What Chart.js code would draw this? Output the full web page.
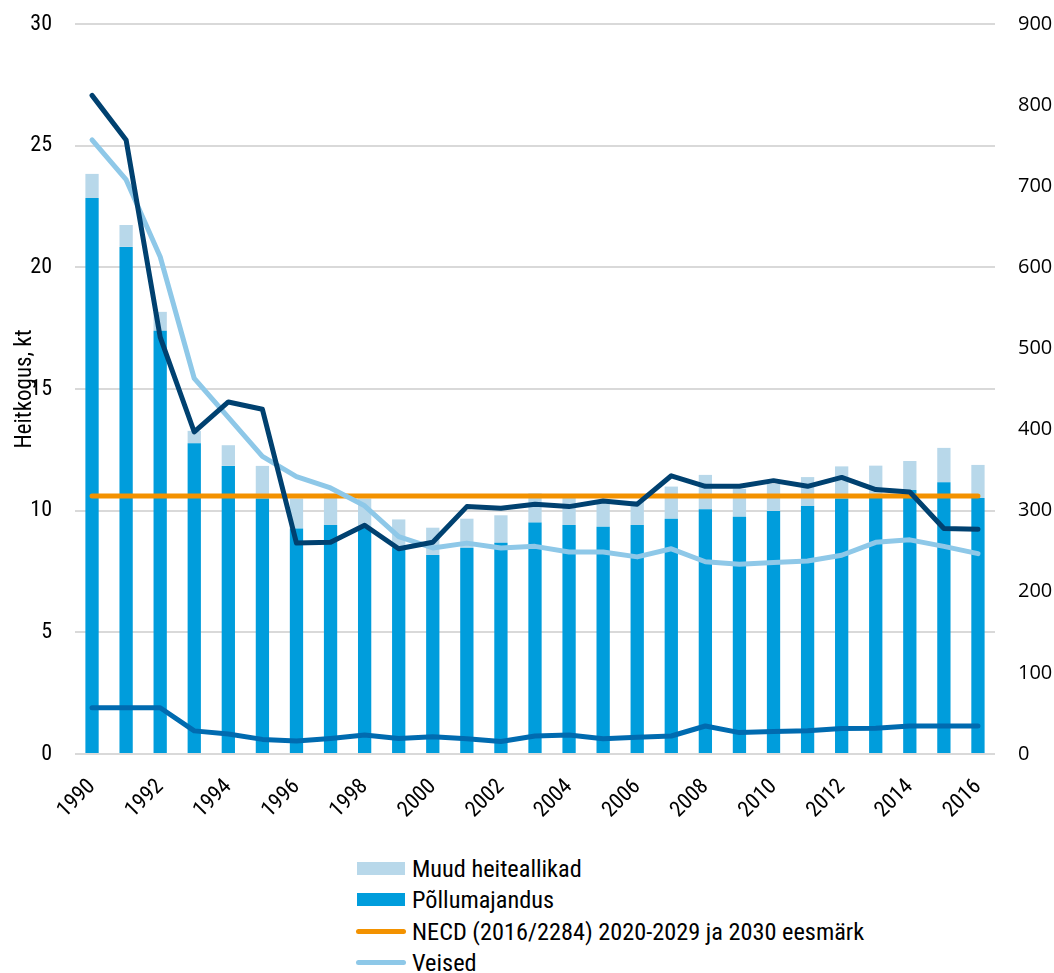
<!DOCTYPE html>
<html>
<head>
<meta charset="utf-8">
<script src="https://cdn.jsdelivr.net/npm/chart.js@4"></script>
<style>
  html, body { margin: 0; padding: 0; background: #fff; }
  #wrap { position: relative; width: 1054px; height: 973px; overflow: hidden; }
  #legend { position: absolute; left: 356px; top: 853px; font-family: "Roboto Condensed", "Liberation Sans Narrow", "DejaVu Sans Condensed", Roboto, sans-serif; font-size: 24.3px; color: #000; }
  .item { height: 31.3px; display: flex; align-items: center; }
  .sw { width: 50px; margin-right: 6px; display: flex; align-items: center; justify-content: center; }
  .box { width: 48px; height: 13px; }
  .ln { width: 50px; height: 5px; border-radius: 3px; }
</style>
</head>
<body>
<div id="wrap">
  <canvas id="c" width="1054" height="845"></canvas>
  <div id="legend"></div>
</div>
<script>
const years = ["1990","1991","1992","1993","1994","1995","1996","1997","1998","1999","2000","2001","2002","2003","2004","2005","2006","2007","2008","2009","2010","2011","2012","2013","2014","2015","2016"];

// kt, left axis
const pollumajandus = [22.85,20.84,17.39,12.77,11.84,10.5,9.27,9.41,9.3,8.5,8.18,8.48,8.68,9.51,9.41,9.34,9.41,9.67,10.06,9.75,9.99,10.19,10.5,10.6,10.85,11.17,10.52];
const muudHeiteallikad = [0.99,0.9,0.78,0.51,0.85,1.34,1.23,1.29,1.2,1.14,1.12,1.19,1.13,1.2,1.17,1.06,0.99,1.32,1.41,1.15,1.11,1.19,1.32,1.25,1.19,1.41,1.36];
const necdTarget = [10.6,10.6,10.6,10.6,10.6,10.6,10.6,10.6,10.6,10.6,10.6,10.6,10.6,10.6,10.6,10.6,10.6,10.6,10.6,10.6,10.6,10.6,10.6,10.6,10.6,10.6,10.6];
const lambad = [1.9,1.9,1.9,0.95,0.82,0.6,0.53,0.64,0.78,0.64,0.71,0.63,0.51,0.74,0.78,0.63,0.69,0.74,1.15,0.88,0.92,0.96,1.05,1.06,1.15,1.15,1.15];

// thousand heads, right axis
const veised = [757,708,613,463,415,367,342,328,306,268,254,260,254,256,249,249,243,253,237,234,236,238,245,261,264,256,247];
const sead = [812,757,514,397,434,425,260,261,282,253,261,305,303,308,305,312,308,343,330,330,337,330,341,326,323,278,277];

const leftTicks = [0,5,10,15,20,25,30];
const rightTicks = [0,100,200,300,400,500,600,700,800,900];

const legendItems = [
  { label: "Muud heiteallikad", color: "#b8d8ea", kind: "box" },
  { label: "Põllumajandus", color: "#009ddc", kind: "box" },
  { label: "NECD (2016/2284) 2020-2029 ja 2030 eesmärk", color: "#f39200", kind: "line" },
  { label: "Veised", color: "#8ec8e8", kind: "line" },
  { label: "Sead", color: "#004170", kind: "line" },
  { label: "Lambad", color: "#006bb0", kind: "line" }
];

const fontFamily = '"Roboto Condensed", "Liberation Sans Narrow", "DejaVu Sans Condensed", Roboto, sans-serif';

/* lines share no stack with the bars */
const lineBase = { type: "line", pointRadius: 0, borderWidth: 5, tension: 0, borderCapStyle: "round", borderJoinStyle: "round", fill: false };

const config = {
  type: "bar",
  data: {
    labels: years,
    datasets: [
      { label: "Põllumajandus", data: pollumajandus, backgroundColor: "#009ddc", yAxisID: "y", stack: "bars", order: 10, barPercentage: 0.39, categoryPercentage: 1 },
      { label: "Muud heiteallikad", data: muudHeiteallikad, backgroundColor: "#b8d8ea", yAxisID: "y", stack: "bars", order: 10, barPercentage: 0.39, categoryPercentage: 1 },
      { ...lineBase, label: "NECD (2016/2284) 2020-2029 ja 2030 eesmärk", data: necdTarget, borderColor: "#f39200", yAxisID: "y", stack: "necd", order: 5 },
      { ...lineBase, label: "Veised", data: veised, borderColor: "#8ec8e8", yAxisID: "y2", order: 4 },
      { ...lineBase, label: "Lambad", data: lambad, borderColor: "#006bb0", yAxisID: "y", stack: "lambad", order: 3 },
      { ...lineBase, label: "Sead", data: sead, borderColor: "#004170", yAxisID: "y2", order: 2 },
    ],
  },
  options: {
    responsive: false,
    animation: false,
    layout: { padding: { top: 24, right: 0, bottom: 0, left: 0 } },
    scales: {
      x: {
        stacked: true,
        grid: { display: false },
        border: { display: false },
        ticks: {
          autoSkip: false,
          minRotation: 45,
          maxRotation: 45,
          padding: 12,
          color: "#000",
          font: { family: fontFamily, size: 22 },
          callback: (v, i) => (i % 2 === 0 ? years[i] : ""),
        },
        afterFit: (s) => { s.height = 91; s.paddingLeft = 0; s.paddingRight = 0; },
      },
      y: {
        stacked: true,
        position: "left",
        min: 0,
        max: 30,
        afterBuildTicks: (s) => { s.ticks = leftTicks.map((v) => ({ value: v })); },
        grid: { color: "#d9d9d9", lineWidth: 2, drawTicks: false },
        border: { display: false },
        ticks: { padding: 23, color: "#000", font: { family: fontFamily, size: 22 } },
        title: { display: true, text: "Heitkogus, kt", color: "#000", font: { family: fontFamily, size: 23 }, padding: { top: 11, bottom: 0 } },
        afterFit: (s) => { s.width = 75; s.paddingTop = 0; s.paddingBottom = 0; },
      },
      y2: {
        position: "right",
        min: 0,
        max: 900,
        afterBuildTicks: (s) => { s.ticks = rightTicks.map((v) => ({ value: v })); },
        grid: { display: false, drawTicks: false },
        border: { display: false },
        ticks: { padding: 23, color: "#000", font: { family: "'Open Sans', sans-serif", size: 20 } },
        afterFit: (s) => { s.width = 59; s.paddingTop = 0; s.paddingBottom = 0; },
      },
    },
    plugins: {
      legend: { display: false },
      tooltip: { enabled: false },
    },
  },
};

new Chart(document.getElementById("c"), config);

/* legend below the canvas, first four entries as in the source figure */
const legendEl = document.getElementById("legend");
legendItems.slice(0, 4).forEach((it) => {
  const row = document.createElement("div");
  row.className = "item";
  const sw = document.createElement("div");
  sw.className = "sw";
  const mark = document.createElement("div");
  mark.className = it.kind === "box" ? "box" : "ln";
  mark.style.background = it.color;
  sw.appendChild(mark);
  const txt = document.createElement("span");
  txt.textContent = it.label;
  row.appendChild(sw);
  row.appendChild(txt);
  legendEl.appendChild(row);
});
</script>
</body>
</html>
